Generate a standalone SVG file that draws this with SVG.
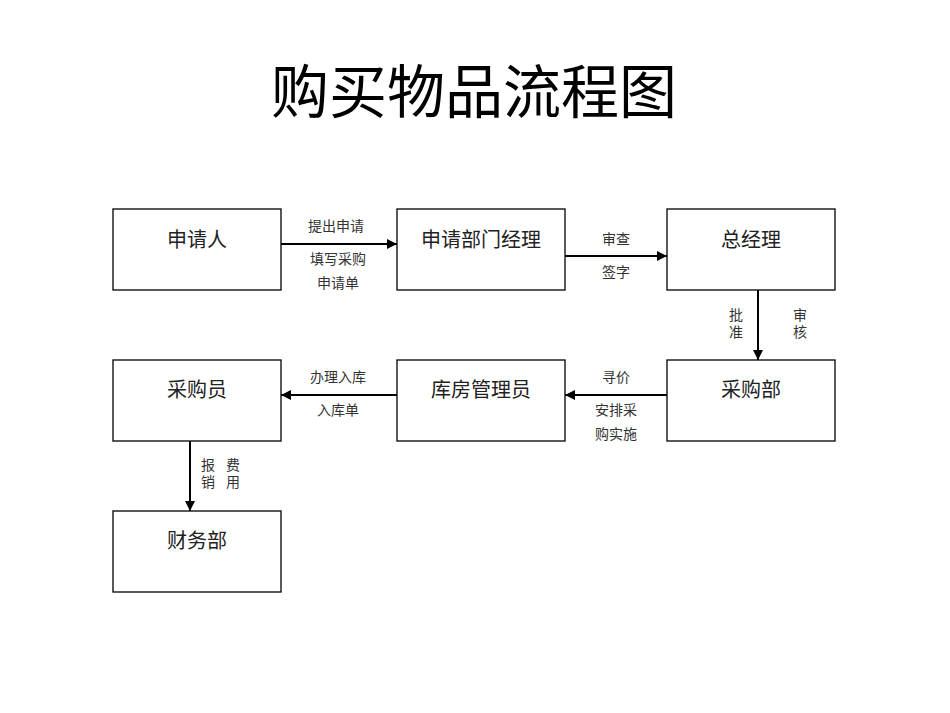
<svg xmlns="http://www.w3.org/2000/svg" width="950" height="713" viewBox="0 0 950 713">
<defs>
<marker id="ah" viewBox="0 0 10 10" refX="10" refY="5" markerWidth="10" markerHeight="10" markerUnits="userSpaceOnUse" orient="auto">
<path d="M0,0 L10,5 L0,10 z" fill="#000"/>
</marker>
</defs>
<style>
.box{fill:#fff;stroke:#000;stroke-width:1.3}
.nt{font-family:"Noto Sans CJK SC","Noto Sans",sans-serif;font-size:20px;fill:#222;text-anchor:middle}
.el{font-family:"Noto Sans CJK SC","Noto Sans",sans-serif;font-size:14px;fill:#333;text-anchor:middle}
.vl{font-family:"Noto Sans CJK SC","Noto Sans",sans-serif;font-size:14px;fill:#333;writing-mode:vertical-rl;letter-spacing:3px}
.ed{stroke:#000;stroke-width:2;fill:none;marker-end:url(#ah)}
.title{font-family:"Noto Sans CJK SC","Noto Sans",sans-serif;font-size:58px;fill:#000;text-anchor:middle}
</style>
<rect width="950" height="713" fill="#fff"/>
<text class="title" x="474" y="113">购买物品流程图</text>
<g id="connectors">
<line class="ed" x1="281" y1="244" x2="397" y2="244"/>
<line class="ed" x1="565" y1="256" x2="667" y2="256"/>
<line class="ed" x1="758" y1="290" x2="758" y2="360"/>
<line class="ed" x1="667" y1="395" x2="565" y2="395"/>
<line class="ed" x1="397" y1="395" x2="281" y2="395"/>
<line class="ed" x1="190" y1="441" x2="190" y2="511"/>
<text class="el" x="336" y="231">提出申请</text>
<text class="el" x="338" y="264">填写采购</text>
<text class="el" x="338" y="288">申请单</text>
<text class="el" x="616" y="244">审查</text>
<text class="el" x="616" y="277">签字</text>
<text class="vl" x="736" y="308">批准</text>
<text class="vl" x="800" y="308">审核</text>
<text class="el" x="616" y="382">寻价</text>
<text class="el" x="616" y="415">安排采</text>
<text class="el" x="616" y="439">购实施</text>
<text class="el" x="338" y="382">办理入库</text>
<text class="el" x="338" y="415">入库单</text>
<text class="vl" x="208" y="458">报销</text>
<text class="vl" x="233" y="458">费用</text>
</g>
<g id="n1"><rect class="box" x="113" y="209" width="168" height="81"/><text class="nt" x="197" y="247">申请人</text></g>
<g id="n2"><rect class="box" x="397" y="209" width="168" height="81"/><text class="nt" x="481" y="247">申请部门经理</text></g>
<g id="n3"><rect class="box" x="667" y="209" width="168" height="81"/><text class="nt" x="751" y="247">总经理</text></g>
<g id="n4"><rect class="box" x="667" y="360" width="168" height="81"/><text class="nt" x="751" y="397">采购部</text></g>
<g id="n5"><rect class="box" x="397" y="360" width="168" height="81"/><text class="nt" x="481" y="397">库房管理员</text></g>
<g id="n6"><rect class="box" x="113" y="360" width="168" height="81"/><text class="nt" x="197" y="397">采购员</text></g>
<g id="n7"><rect class="box" x="113" y="511" width="168" height="81"/><text class="nt" x="197" y="548">财务部</text></g>
</svg>
